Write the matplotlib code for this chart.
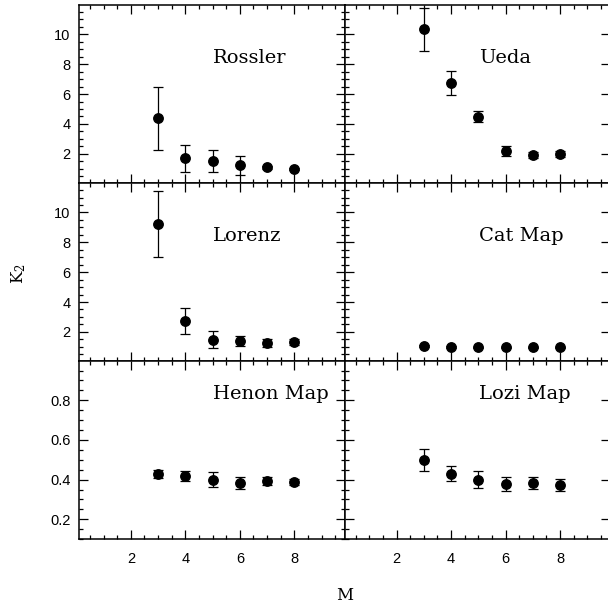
import matplotlib
matplotlib.use("Agg")
import matplotlib.pyplot as plt
from matplotlib.ticker import MultipleLocator, FixedLocator

plt.rcParams['mathtext.fontset'] = 'dejavuserif'

M = [3, 4, 5, 6, 7, 8]

names = ["Rossler", "Ueda", "Lorenz", "Cat Map", "Henon Map", "Lozi Map"]

rossler = [4.38, 1.71, 1.51, 1.22, 1.11, 0.98]
rossler_err = [2.1, 0.9, 0.75, 0.63, 0.1, 0.08]
ueda = [10.33, 6.75, 4.49, 2.2, 1.93, 1.98]
ueda_err = [1.43, 0.82, 0.35, 0.35, 0.2, 0.2]
lorenz = [9.23, 2.75, 1.49, 1.38, 1.27, 1.34]
lorenz_err = [2.2, 0.87, 0.6, 0.33, 0.25, 0.2]
catmap = [1.07, 0.98, 0.97, 0.96, 0.96, 0.96]
catmap_err = [0.05, 0.05, 0.05, 0.05, 0.05, 0.05]
henon = [0.430, 0.416, 0.400, 0.385, 0.393, 0.388]
henon_err = [0.02, 0.025, 0.037, 0.03, 0.02, 0.015]
lozi = [0.499, 0.430, 0.400, 0.377, 0.383, 0.372]
lozi_err = [0.055, 0.037, 0.042, 0.037, 0.032, 0.03]

values = [rossler, ueda, lorenz, catmap, henon, lozi]
errors = [rossler_err, ueda_err, lorenz_err, catmap_err, henon_err, lozi_err]

fig = plt.figure(figsize=(6.08, 6.03), dpi=100)
fig.subplots_adjust(left=0.130, right=1.004, top=0.992, bottom=0.106,
                    hspace=0, wspace=0)
axes = fig.subplots(3, 2, sharex=True)

for i, ax in enumerate(axes.flat):
    row, col = divmod(i, 2)
    ax.errorbar(M, values[i], yerr=errors[i], fmt='o', color='black',
                markersize=6.8, elinewidth=0.9, capsize=3.6, capthick=0.9)
    ax.set_xlim(0.1, 9.85)
    ax.xaxis.set_major_locator(FixedLocator([2, 4, 6, 8]))
    ax.xaxis.set_minor_locator(MultipleLocator(0.5))
    if row < 2:
        ax.set_ylim(0.05, 11.98)
        ax.yaxis.set_major_locator(FixedLocator([2, 4, 6, 8, 10]))
        ax.yaxis.set_minor_locator(MultipleLocator(0.5))
        ty = 0.70
    else:
        ax.set_ylim(0.1, 0.998)
        ax.yaxis.set_major_locator(FixedLocator([0.2, 0.4, 0.6, 0.8]))
        ax.yaxis.set_minor_locator(MultipleLocator(0.05))
        ty = 0.815
    ax.tick_params(which='both', direction='in', top=True, right=True,
                   width=0.9)
    ax.tick_params(which='major', length=6.5)
    ax.tick_params(which='minor', length=3)
    ax.tick_params(axis='y', pad=6, labelsize=10.5)
    ax.tick_params(axis='x', pad=9, labelsize=10.5)
    for lab in ax.get_xticklabels() + ax.get_yticklabels():
        lab.set_fontfamily('Liberation Sans')
    if col == 1:
        ax.tick_params(labelleft=False)
        # the right edge is cut off in the original; only long ticks show
        ax.tick_params(axis='y', which='minor', right=False)
    if row < 2:
        ax.tick_params(labelbottom=False)
    for sp in ax.spines.values():
        sp.set_linewidth(1.1)
    ax.text(0.505, ty, names[i], transform=ax.transAxes, ha='left',
            va='center', fontsize=14, family='DejaVu Serif')

fig.text(0.03, 0.547, r'K$_2$', rotation=90, ha='center', va='center',
         fontsize=12, family='DejaVu Serif')
fig.text(0.567, 0.013, 'M', ha='center', va='center', fontsize=12,
         family='DejaVu Serif')

fig.savefig("out.png", dpi=100)
